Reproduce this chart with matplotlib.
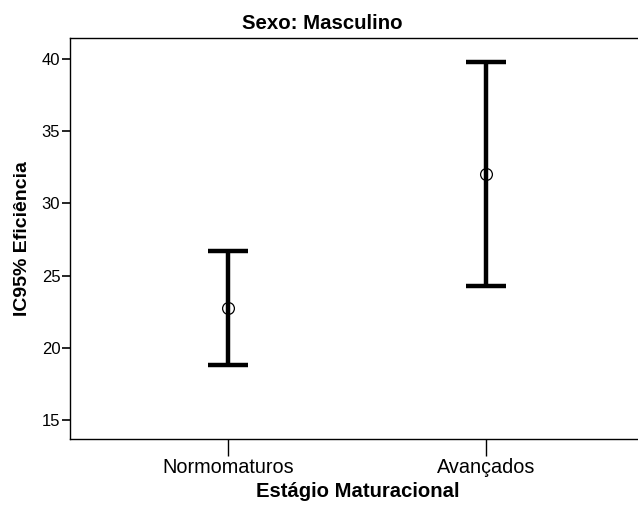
import matplotlib
matplotlib.use("Agg")
import matplotlib.pyplot as plt

categories = ["Normomaturos", "Avançados"]
means = [22.77, 32.05]
lower = [18.82, 24.29]
upper = [26.70, 39.78]
yticks = [15, 20, 25, 30, 35, 40]

plt.rcParams['font.family'] = ['Liberation Sans', 'DejaVu Sans']

fig = plt.figure(figsize=(6.38, 5.07), dpi=100)
ax = fig.add_axes([70/638, 1-439.3/507, 1-70/638, (439.3-38.3)/507])

x = list(range(len(categories)))
yerr = [[m - l for m, l in zip(means, lower)], [u - m for m, u in zip(means, upper)]]
ax.errorbar(x, means, yerr=yerr, fmt='none', ecolor='black', elinewidth=3.2,
            capsize=14.5, capthick=3.2)
ax.plot(x, means, linestyle='none', marker='o', markersize=8.5,
        markerfacecolor='none', markeredgecolor='black', markeredgewidth=0.9)

ax.set_xlim(-0.613, 1.591)
ax.set_ylim(13.66, 41.43)
ax.set_xticks(x)
ax.set_xticklabels(categories, fontsize=14.3)
ax.set_yticks(yticks)
ax.set_yticklabels([str(t) for t in yticks], fontsize=12)
ax.tick_params(axis='y', direction='out', length=6, width=1.2, pad=1)
ax.tick_params(axis='x', direction='out', length=12, width=1.0, pad=1.5)

for s in ['left', 'top', 'bottom']:
    ax.spines[s].set_linewidth(1.0)
ax.spines['right'].set_visible(False)

ax.set_title("Sexo: Masculino", fontsize=14.7, fontweight='bold', pad=7, x=0.4445)
ax.set_xlabel("Estágio Maturacional", fontsize=14.6, fontweight='bold')
ax.xaxis.set_label_coords(0.506, -(497 - 439.3) / 401)
ax.xaxis.label.set_verticalalignment('baseline')
ax.set_ylabel("IC95% Eficiência", fontsize=14, fontweight='bold', labelpad=8)

fig.savefig("out.png", dpi=100)
